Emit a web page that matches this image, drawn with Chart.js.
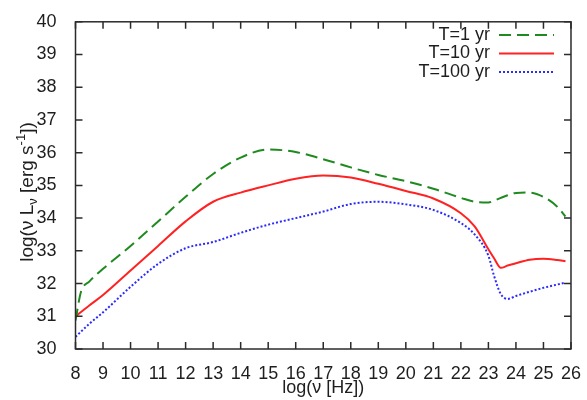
<!DOCTYPE html>
<html>
<head>
<meta charset="utf-8">
<script src="https://cdn.jsdelivr.net/npm/chart.js@4"></script>
<style>
  html, body { margin: 0; padding: 0; background: #fff; }
  #wrap { width: 587px; height: 400px; position: relative; }
</style>
</head>
<body>
<div id="wrap"><canvas id="sed"></canvas></div>
<script>
// log(nu) grid shared by the three curves
const logNu = [8, 8.2, 8.5, 9, 10, 11, 12, 13, 14, 15, 16, 17, 18, 19, 20, 21, 22, 22.5, 23, 23.2, 23.45, 23.7, 24, 24.5, 25, 25.5, 25.8];

// log(nu L_nu)
const lum1yr   = [30.87, 31.75, 32.06, 32.45, 33.15, 33.9, 34.65, 35.35, 35.85, 36.1, 36.02, 35.8, 35.55, 35.32, 35.13, 34.9, 34.62, 34.5, 34.48, 34.53, 34.62, 34.7, 34.77, 34.78, 34.65, 34.35, 34.05];
const lum10yr  = [31.0, 31.13, 31.33, 31.65, 32.4, 33.15, 33.9, 34.5, 34.78, 35.0, 35.2, 35.3, 35.24, 35.05, 34.83, 34.6, 34.15, 33.75, 33.05, 32.78, 32.48, 32.55, 32.62, 32.73, 32.76, 32.72, 32.68];
const lum100yr = [30.37, 30.53, 30.77, 31.12, 31.9, 32.6, 33.08, 33.27, 33.55, 33.8, 34.0, 34.2, 34.43, 34.5, 34.42, 34.25, 33.85, 33.5, 32.85, 32.25, 31.68, 31.53, 31.62, 31.75, 31.87, 31.97, 32.03];

const seriesLabels = ['T=1 yr', 'T=10 yr', 'T=100 yr'];

const FONT = '"Liberation Sans", Arial, sans-serif';
const TICK_LEN = 7;

const pts = ys => logNu.map((x, i) => ({ x, y: ys[i] }));

// box with inward ticks on all four sides (gnuplot style)
const framePlugin = {
  id: 'frame',
  afterDatasetsDraw(chart) {
    const { ctx, chartArea: a, scales } = chart;
    ctx.save();
    ctx.strokeStyle = '#2b2b2b';
    ctx.lineWidth = 1.5;
    ctx.strokeRect(a.left, a.top, a.right - a.left, a.bottom - a.top);
    ctx.beginPath();
    scales.x.ticks.forEach(t => {
      const px = scales.x.getPixelForValue(t.value);
      ctx.moveTo(px, a.bottom); ctx.lineTo(px, a.bottom - TICK_LEN);
      ctx.moveTo(px, a.top);    ctx.lineTo(px, a.top + TICK_LEN);
    });
    scales.y.ticks.forEach(t => {
      const py = scales.y.getPixelForValue(t.value);
      ctx.moveTo(a.left, py);  ctx.lineTo(a.left + TICK_LEN, py);
      ctx.moveTo(a.right, py); ctx.lineTo(a.right - TICK_LEN, py);
    });
    ctx.stroke();
    ctx.restore();
  },
};

// axis titles (with sub/superscript) and the key in the top right corner
const labelsPlugin = {
  id: 'labels',
  afterDraw(chart) {
    const { ctx, chartArea: a } = chart;
    ctx.save();
    ctx.fillStyle = '#1e1e1e';

    // x title
    ctx.font = `18px ${FONT}`;
    ctx.textAlign = 'center';
    ctx.textBaseline = 'middle';
    ctx.fillText('log(ν [Hz])', (a.left + a.right) / 2, 388);

    // y title, rotated
    const parts = [
      { t: 'log(ν L', size: 19, dy: 0 },
      { t: 'ν', size: 13, dy: 4 },
      { t: ' [erg s', size: 19, dy: 0 },
      { t: '-1', size: 13, dy: -8 },
      { t: '])', size: 19, dy: 0 },
    ];
    let total = 0;
    parts.forEach(p => { ctx.font = `${p.size}px ${FONT}`; p.w = ctx.measureText(p.t).width; total += p.w; });
    ctx.translate(33, 192);
    ctx.rotate(-Math.PI / 2);
    ctx.textAlign = 'left';
    ctx.textBaseline = 'alphabetic';
    let cx = -total / 2;
    parts.forEach(p => {
      ctx.font = `${p.size}px ${FONT}`;
      ctx.fillText(p.t, cx, p.dy);
      cx += p.w;
    });
    ctx.setTransform(1, 0, 0, 1, 0, 0);

    // key
    ctx.font = `18px ${FONT}`;
    ctx.textAlign = 'right';
    ctx.textBaseline = 'middle';
    const rowsY = [35, 53.5, 72];
    chart.data.datasets.forEach((ds, i) => {
      const y = rowsY[i];
      ctx.fillStyle = '#1e1e1e';
      ctx.fillText(ds.label, 490, y);
      ctx.strokeStyle = ds.borderColor;
      ctx.lineWidth = ds.borderWidth;
      ctx.setLineDash(ds.borderDash || []);
      ctx.beginPath();
      ctx.moveTo(499, y);
      ctx.lineTo(554, y);
      ctx.stroke();
    });
    ctx.restore();
  },
};

new Chart(document.getElementById('sed'), {
  type: 'line',
  data: {
    datasets: [
      { label: seriesLabels[0], data: pts(lum1yr),   borderColor: '#1f8a1f', borderWidth: 2, borderDash: [12, 6] },
      { label: seriesLabels[1], data: pts(lum10yr),  borderColor: '#ff2222', borderWidth: 2 },
      { label: seriesLabels[2], data: pts(lum100yr), borderColor: '#2b2bff', borderWidth: 2, borderDash: [2, 2] },
    ],
  },
  options: {
    responsive: true,
    maintainAspectRatio: false,
    animation: false,
    elements: {
      point: { radius: 0 },
      line: { cubicInterpolationMode: 'monotone', fill: false },
    },
    layout: { padding: { top: 17, right: 11, left: 0, bottom: 0 } },
    plugins: { legend: { display: false }, tooltip: { enabled: false } },
    scales: {
      x: {
        type: 'linear', min: 8, max: 26,
        ticks: { stepSize: 1, color: '#1e1e1e', padding: 6, maxRotation: 0, font: { family: FONT, size: 18 } },
        grid: { display: false },
        border: { display: false },
        afterFit: s => { s.height = 51; },
      },
      y: {
        min: 30, max: 40,
        ticks: { stepSize: 1, color: '#1e1e1e', padding: 11, font: { family: FONT, size: 18 } },
        grid: { display: false },
        border: { display: false },
        afterFit: s => { s.width = 75.5; },
      },
    },
  },
  plugins: [framePlugin, labelsPlugin],
});
</script>
</body>
</html>
